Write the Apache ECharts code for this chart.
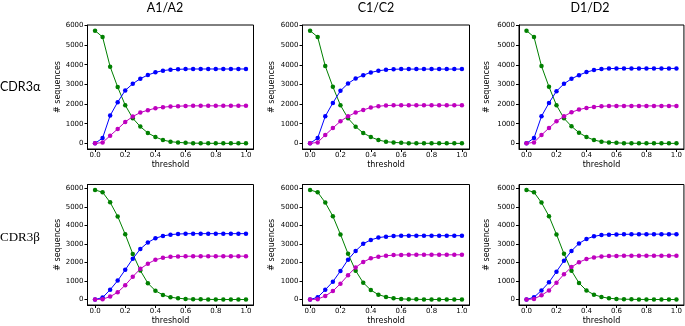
<!DOCTYPE html>
<html>
<head>
<meta charset="utf-8">
<script src="https://cdn.jsdelivr.net/npm/echarts@6/dist/echarts.min.js"></script>
<style>
  html, body { margin: 0; padding: 0; background: #fff; }
  #chart { width: 685px; height: 326px; }
</style>
</head>
<body>
<div id="chart"></div>
<script>
// thresholds 0.00 .. 1.00 step 0.05
var thresholds = [0, 0.05, 0.1, 0.15, 0.2, 0.25, 0.3, 0.35, 0.4, 0.45, 0.5,
  0.55, 0.6, 0.65, 0.7, 0.75, 0.8, 0.85, 0.9, 0.95, 1.0];

var xTicks = [0, 0.2, 0.4, 0.6, 0.8, 1.0];
var yTicks = [0, 1000, 2000, 3000, 4000, 5000, 6000];

var colTitles = ["A1/A2", "C1/C2", "D1/D2"];
var rowTitles = ["CDR3α", "CDR3β"];

// CDR3 alpha
var a12AlphaGreen = [5735, 5410, 3903, 2863, 1943, 1278, 852, 528, 324, 170, 85, 50, 25, 12, 6, 3, 2, 1, 0, 0, 0];
var a12AlphaBlue = [0, 270, 1415, 2097, 2693, 3034, 3290, 3477, 3614, 3699, 3750, 3767, 3780, 3784, 3784, 3784, 3784, 3784, 3784, 3784, 3784];
var a12AlphaMagenta = [0, 40, 392, 733, 1090, 1364, 1568, 1687, 1790, 1840, 1875, 1892, 1905, 1909, 1909, 1909, 1909, 1909, 1909, 1909, 1909];

var c12AlphaGreen = [5744, 5420, 3937, 2880, 1943, 1278, 852, 528, 324, 170, 85, 50, 25, 12, 6, 3, 2, 1, 0, 0, 0];
var c12AlphaBlue = [0, 270, 1380, 2062, 2676, 3051, 3307, 3477, 3614, 3699, 3750, 3775, 3784, 3784, 3784, 3784, 3784, 3784, 3784, 3784, 3784];
var c12AlphaMagenta = [0, 50, 426, 784, 1125, 1380, 1568, 1704, 1824, 1892, 1926, 1940, 1943, 1943, 1943, 1943, 1943, 1943, 1943, 1943, 1943];

var d12AlphaGreen = [5744, 5420, 3937, 2880, 1943, 1278, 869, 545, 324, 170, 85, 50, 25, 12, 6, 3, 2, 1, 0, 0, 0];
var d12AlphaBlue = [0, 270, 1380, 2062, 2659, 3034, 3290, 3477, 3630, 3733, 3784, 3810, 3818, 3818, 3818, 3818, 3818, 3818, 3818, 3818, 3818];
var d12AlphaMagenta = [0, 50, 426, 784, 1125, 1380, 1585, 1721, 1807, 1858, 1892, 1905, 1909, 1909, 1909, 1909, 1909, 1909, 1909, 1909, 1909];

// CDR3 beta
var a12BetaGreen = [5929, 5806, 5259, 4500, 3529, 2470, 1570, 882, 476, 247, 124, 70, 35, 18, 10, 5, 3, 2, 1, 0, 0];
var a12BetaBlue = [0, 106, 529, 1023, 1606, 2206, 2735, 3088, 3318, 3441, 3512, 3547, 3560, 3565, 3565, 3565, 3565, 3565, 3565, 3565, 3565];
var a12BetaMagenta = [0, 18, 159, 388, 776, 1235, 1659, 1941, 2153, 2259, 2312, 2329, 2340, 2347, 2347, 2347, 2347, 2347, 2347, 2347, 2347];

var c12BetaGreen = [5930, 5807, 5246, 4509, 3526, 2474, 1561, 912, 509, 263, 140, 70, 35, 18, 10, 5, 3, 2, 1, 0, 0];
var c12BetaBlue = [0, 123, 526, 965, 1544, 2158, 2632, 3018, 3228, 3351, 3404, 3439, 3450, 3456, 3456, 3456, 3456, 3456, 3456, 3456, 3456];
var c12BetaMagenta = [0, 18, 193, 456, 860, 1316, 1737, 2035, 2228, 2316, 2368, 2404, 2415, 2421, 2421, 2421, 2421, 2421, 2421, 2421, 2421];

var d12BetaGreen = [5930, 5807, 5246, 4509, 3526, 2474, 1561, 895, 490, 263, 140, 70, 35, 18, 10, 5, 3, 2, 1, 0, 0];
var d12BetaBlue = [0, 123, 491, 930, 1509, 2105, 2632, 3035, 3281, 3421, 3491, 3509, 3526, 3530, 3535, 3540, 3540, 3540, 3540, 3540, 3540];
var d12BetaMagenta = [0, 35, 228, 491, 912, 1368, 1754, 2018, 2193, 2281, 2333, 2351, 2360, 2368, 2368, 2368, 2368, 2368, 2368, 2368, 2368];

var panels = [
  [a12AlphaGreen, a12AlphaBlue, a12AlphaMagenta],
  [c12AlphaGreen, c12AlphaBlue, c12AlphaMagenta],
  [d12AlphaGreen, d12AlphaBlue, d12AlphaMagenta],
  [a12BetaGreen, a12BetaBlue, a12BetaMagenta],
  [c12BetaGreen, c12BetaBlue, c12BetaMagenta],
  [d12BetaGreen, d12BetaBlue, d12BetaMagenta]
];

var lineColors = ["#008000", "#0000ff", "#bf00bf"];

// grid boxes in px
var colLeft = [87.5, 302.5, 519];
var colWidth = [166, 167, 165];
var rowTop = [25, 184.5];
var rowHeight = [124, 124];
var yNameGap = [26, 27, 28];

var tickFont = "DejaVu Sans";
var grids = [], xAxes = [], yAxes = [], series = [];

panels.forEach(function(p, i) {
  var r = Math.floor(i / 3), c = i % 3;
  grids.push({
    left: colLeft[c], top: rowTop[r], width: colWidth[c], height: rowHeight[r],
    show: true, borderColor: "#000", borderWidth: 1, backgroundColor: "transparent"
  });
  xAxes.push({
    type: "value", gridIndex: i, min: -0.05, max: 1.05,
    name: "threshold", nameLocation: "middle", nameGap: 12,
    nameTextStyle: { fontFamily: tickFont, fontSize: 8, color: "#000" },
    axisLine: { show: true, onZero: false, lineStyle: { color: "#000", width: 1 } },
    axisTick: { show: true, inside: false, length: 3, customValues: xTicks, lineStyle: { color: "#000" } },
    axisLabel: { customValues: xTicks, margin: 3, fontFamily: tickFont, fontSize: 7, color: "#000",
      formatter: function(v) { return v.toFixed(1); } },
    splitLine: { show: false }
  });
  var maxV = 0;
  p.forEach(function(s) { s.forEach(function(v) { if (v > maxV) maxV = v; }); });
  yAxes.push({
    type: "value", gridIndex: i, min: -0.05 * maxV, max: maxV * 1.05,
    name: "# sequences", nameLocation: "middle", nameGap: yNameGap[c],
    nameTextStyle: { fontFamily: tickFont, fontSize: 8, color: "#000" },
    axisLine: { show: true, onZero: false, lineStyle: { color: "#000", width: 1 } },
    axisTick: { show: true, inside: false, length: 3, customValues: yTicks, lineStyle: { color: "#000" } },
    axisLabel: { customValues: yTicks, margin: 4, fontFamily: tickFont, fontSize: 7, color: "#000",
      formatter: function(v) { return String(Math.round(v)); } },
    splitLine: { show: false }
  });
  p.forEach(function(s, k) {
    series.push({
      type: "line", xAxisIndex: i, yAxisIndex: i,
      data: thresholds.map(function(t, j) { return [t, s[j]]; }),
      symbol: "circle", symbolSize: 4.5, showSymbol: true,
      lineStyle: { color: lineColors[k], width: 1 },
      itemStyle: { color: lineColors[k] },
      animation: false, z: 2 + k
    });
  });
});

var titleX = [165, 376, 590];
var graphics = [];
colTitles.forEach(function(t, c) {
  graphics.push({
    type: "text", x: titleX[c], y: 7.5,
    style: { text: t, font: "12.5px Lato", fill: "#000", textAlign: "center", textVerticalAlign: "middle" }
  });
});
graphics.push({
  type: "text", x: 0, y: 87,
  style: { text: rowTitles[0], font: "12.5px Lato", fill: "#000", textAlign: "left", textVerticalAlign: "middle" }
});
graphics.push({
  type: "text", x: 0, y: 238,
  style: { text: rowTitles[1], font: "13px 'Liberation Serif'", fill: "#000", textAlign: "left", textVerticalAlign: "middle" }
});

var myChart = echarts.init(document.getElementById("chart"));
myChart.setOption({
  animation: false,
  backgroundColor: "#fff",
  grid: grids,
  xAxis: xAxes,
  yAxis: yAxes,
  series: series,
  graphic: graphics
});
</script>
</body>
</html>
